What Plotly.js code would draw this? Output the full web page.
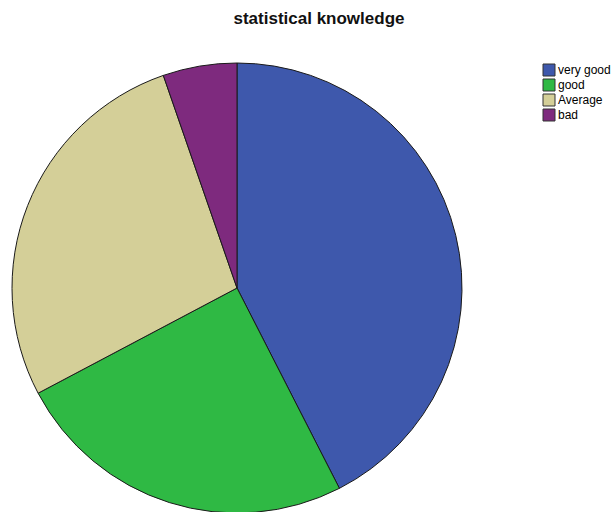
<!DOCTYPE html>
<html>
<head>
<meta charset="utf-8">
<script src="https://cdn.plot.ly/plotly-3.0.1.min.js"></script>
<style>html,body{margin:0;padding:0;background:#fff;overflow:hidden;}</style>
</head>
<body>
<div id="chart" style="width:613px;height:514px;"></div>
<script>
const categories = ["very good", "good", "Average", "bad"];
const counts = [48, 28, 31, 6];
const colors = ["#3e58ac", "#2fb944", "#d4cf98", "#7e2a7e"];

const W = 613, H = 514;
const px = x => x / W;
const py = y => 1 - y / H;

const shapes = [];
const annotations = [];
categories.forEach((c, i) => {
  const yc = 70 + i * 15;
  shapes.push({
    type: "rect", xref: "paper", yref: "paper",
    x0: px(543), x1: px(555), y0: py(yc - 6), y1: py(yc + 6),
    fillcolor: colors[i], line: {color: "#333", width: 1}
  });
  annotations.push({
    xref: "paper", yref: "paper", x: px(556), y: py(yc),
    xanchor: "left", yanchor: "middle", showarrow: false,
    text: c, font: {size: 12, color: "#000"}
  });
});

Plotly.newPlot("chart", [{
  type: "pie",
  labels: categories,
  values: counts,
  sort: false,
  direction: "clockwise",
  rotation: 0,
  textinfo: "none",
  marker: {colors: colors, line: {color: "#1a1a1a", width: 1}},
  domain: {x: [px(12), px(462)], y: [py(513), py(63)]}
}], {
  width: W,
  height: H,
  margin: {l: 0, r: 0, t: 0, b: 0},
  paper_bgcolor: "#ffffff",
  font: {family: "Arial, 'Liberation Sans', sans-serif", color: "#000"},
  title: {
    text: "<b>statistical knowledge</b>",
    font: {size: 17, color: "#111"},
    xref: "paper", x: px(319), xanchor: "center",
    yref: "container", y: py(18), yanchor: "middle"
  },
  showlegend: false,
  shapes: shapes,
  annotations: annotations
}, {displayModeBar: false, staticPlot: true});
</script>
</body>
</html>
